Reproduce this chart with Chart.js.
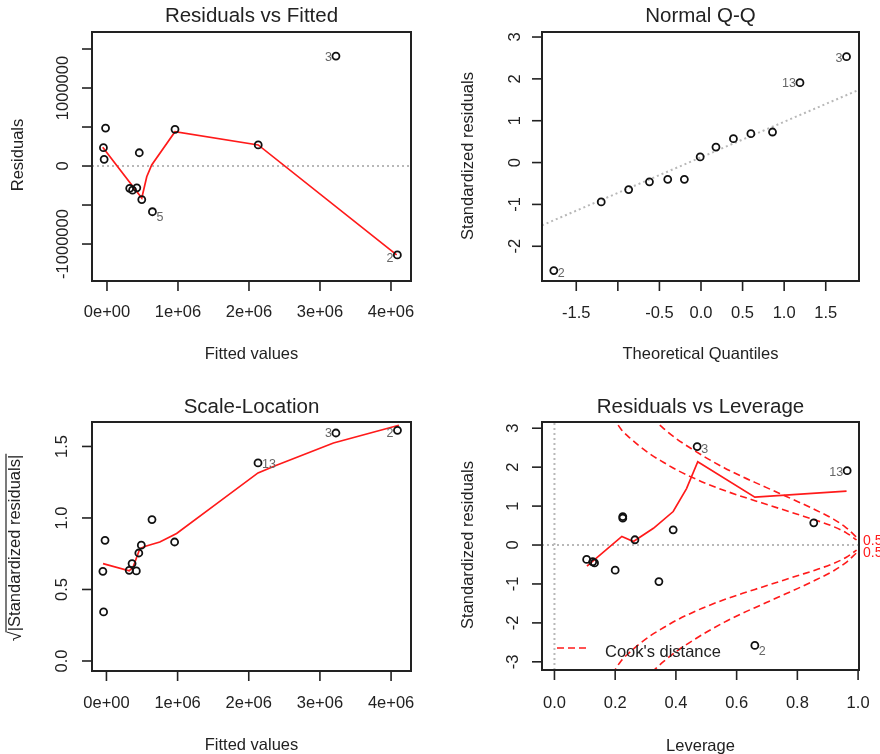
<!DOCTYPE html>
<html lang="en">
<head>
<meta charset="UTF-8">
<title>lm diagnostic plots</title>
<script src="https://cdn.jsdelivr.net/npm/chart.js@4.4.1/dist/chart.umd.min.js"></script>
<style>
  body { margin: 0; background: #fff; }
  #wrap { position: relative; width: 880px; height: 754px; overflow: hidden; }
  canvas { position: absolute; }
</style>
</head>
<body>
<div id="wrap">
  <canvas id="p1" width="440" height="380" style="left:0;top:0"></canvas>
  <canvas id="p2" width="440" height="380" style="left:440px;top:0"></canvas>
  <canvas id="p3" width="440" height="374" style="left:0;top:380px"></canvas>
  <canvas id="p4" width="440" height="374" style="left:440px;top:380px"></canvas>
</div>
<script>
// ---- data ----
// Residuals vs Fitted
const fitted    = [-20000, -50000, -40000, 455000, 320000, 360000, 420000, 490000, 640000, 958000, 2130000, 3225000, 4090000];
const residuals = [487000, 235000, 86000, 170000, -286000, -310000, -280000, -430000, -586000, 470000, 270000, 1410000, -1140000];
const rfSmoothX = [-60000, 490000, 560000, 630000, 958000, 2130000, 4080000];
const rfSmoothY = [240000, -410000, -137000, 13000, 440000, 270000, -1140000];

// Normal Q-Q
const theoQuant   = [-1.77, -1.20, -0.87, -0.62, -0.40, -0.20, -0.01, 0.18, 0.39, 0.60, 0.86, 1.19, 1.75];
const stdResSort  = [-2.58, -0.94, -0.645, -0.46, -0.40, -0.40, 0.135, 0.37, 0.57, 0.69, 0.73, 1.91, 2.53];
const qqLineX = [-1.912, 1.90];
const qqLineY = [-1.50, 1.74];

// Scale-Location (same fitted values)
const sqrtStdRes = [0.844, 0.627, 0.343, 0.755, 0.634, 0.681, 0.630, 0.810, 0.989, 0.832, 1.385, 1.594, 1.613];
const slSmoothX = [-48000, 320000, 375000, 470000, 560000, 750000, 986000, 1550000, 2130000, 2390000, 3190000, 4110000];
const slSmoothY = [0.681, 0.630, 0.657, 0.786, 0.804, 0.832, 0.891, 1.100, 1.315, 1.369, 1.524, 1.648];

// Residuals vs Leverage
const leverage = [0.106, 0.126, 0.132, 0.200, 0.225, 0.225, 0.265, 0.344, 0.391, 0.470, 0.854, 0.964, 0.660];
const stdRes   = [-0.37, -0.43, -0.46, -0.645, 0.73, 0.69, 0.135, -0.94, 0.39, 2.53, 0.57, 1.91, -2.58];
const lvSmoothX = [0.107, 0.222, 0.260, 0.326, 0.391, 0.435, 0.472, 0.660, 0.962];
const lvSmoothY = [-0.54, 0.22, 0.09, 0.43, 0.86, 1.45, 2.14, 1.23, 1.385];
const cookX     = [0.19, 0.22, 0.25, 0.28, 0.32, 0.36, 0.40, 0.45, 0.50, 0.56, 0.62, 0.68, 0.74, 0.80, 0.86, 0.92, 0.96, 0.995];
const cookHalfY = [3.32, 2.97, 2.74, 2.54, 2.31, 2.12, 1.94, 1.75, 1.58, 1.40, 1.24, 1.09, 0.94, 0.79, 0.64, 0.47, 0.32, 0.13];
const cookOneX  = [0.32, 0.36, 0.40, 0.45, 0.50, 0.56, 0.62, 0.68, 0.74, 0.80, 0.86, 0.92, 0.96, 0.995];
const cookOneY  = [3.27, 2.99, 2.74, 2.48, 2.24, 1.98, 1.75, 1.54, 1.33, 1.12, 0.90, 0.66, 0.45, 0.20];
const cookLevelLabels = ['0.5', '0.5'];

// ticks
const fitTicks  = [0, 1000000, 2000000, 3000000, 4000000];
const fitLabels = ['0e+00', '1e+06', '2e+06', '3e+06', '4e+06'];
const resTicks  = [-1000000, -500000, 0, 500000, 1000000, 1500000];
const resLabels = ['-1000000', '', '0', '', '1000000', ''];
const qqXTicks  = [-1.5, -1.0, -0.5, 0, 0.5, 1.0, 1.5];
const qqXLabels = ['-1.5', '', '-0.5', '0.0', '0.5', '1.0', '1.5'];
const qqYTicks  = [-2, -1, 0, 1, 2, 3];
const qqYLabels = ['-2', '-1', '0', '1', '2', '3'];
const slYTicks  = [0, 0.5, 1.0, 1.5];
const slYLabels = ['0.0', '0.5', '1.0', '1.5'];
const lvXTicks  = [0, 0.2, 0.4, 0.6, 0.8, 1.0];
const lvXLabels = ['0.0', '0.2', '0.4', '0.6', '0.8', '1.0'];
const lvYTicks  = [-3, -2, -1, 0, 1, 2, 3];
const lvYLabels = ['-3', '-2', '-1', '0', '1', '2', '3'];

const FONT = '"Liberation Sans", Arial, sans-serif';
const pts = (xs, ys) => xs.map((x, i) => ({ x: x, y: ys[i] }));

// draws the R-style box, axes, titles and point ids
const rFrame = {
  id: 'rFrame',
  afterDraw(chart, args, o) {
    const ctx = chart.ctx, a = chart.chartArea;
    const sx = chart.scales.x, sy = chart.scales.y;
    ctx.save();
    ctx.strokeStyle = '#222';
    ctx.fillStyle = '#222';
    ctx.lineWidth = 2;
    ctx.strokeRect(a.left, a.top, a.right - a.left, a.bottom - a.top);

    ctx.lineWidth = 1.6;
    ctx.font = '16.5px ' + FONT;
    ctx.textAlign = 'center';
    ctx.textBaseline = 'middle';
    o.xTicks.forEach((v, i) => {
      const px = sx.getPixelForValue(v);
      ctx.beginPath(); ctx.moveTo(px, a.bottom); ctx.lineTo(px, a.bottom + 10); ctx.stroke();
      if (o.xLabels[i]) ctx.fillText(o.xLabels[i], px, o.xLabelY);
    });
    o.yTicks.forEach((v, i) => {
      const py = sy.getPixelForValue(v);
      ctx.beginPath(); ctx.moveTo(a.left - 10, py); ctx.lineTo(a.left, py); ctx.stroke();
      if (o.yLabels[i]) {
        ctx.save(); ctx.translate(o.yLabelX, py); ctx.rotate(-Math.PI / 2);
        ctx.fillText(o.yLabels[i], 0, 0); ctx.restore();
      }
    });

    // axis titles
    ctx.fillText(o.xTitle, (a.left + a.right) / 2, o.xTitleY);
    ctx.save(); ctx.translate(o.yTitleX, o.yTitleY); ctx.rotate(-Math.PI / 2);
    if (o.sqrtTitle) {
      const txt = '|' + o.yTitle + '|';
      const w = ctx.measureText(txt).width;
      ctx.fillText(txt, 6, 0);
      ctx.font = '18px ' + FONT;
      ctx.fillText('\u221A', 6 - w / 2 - 5, 1);
      ctx.lineWidth = 1.2;
      ctx.beginPath(); ctx.moveTo(6 - w / 2 - 1, -9); ctx.lineTo(6 + w / 2 + 1, -9); ctx.stroke();
    } else {
      ctx.fillText(o.yTitle, 0, 0);
    }
    ctx.restore();

    // main caption
    ctx.font = '20.5px ' + FONT;
    ctx.fillText(o.title, (a.left + a.right) / 2, o.titleY);

    // point ids
    const meta = chart.getDatasetMeta(0);
    ctx.font = '12.5px ' + FONT;
    ctx.fillStyle = '#666';
    (o.ids || []).forEach(l => {
      const p = meta.data[l.i];
      ctx.textAlign = l.side === 'left' ? 'right' : 'left';
      ctx.fillText(l.text, p.x + (l.side === 'left' ? -4 : 4), p.y + l.dy);
    });

    if (o.extra) o.extra(chart, ctx);
    ctx.restore();
  }
};

function pointSet(data) {
  return {
    data: data, showLine: false, pointStyle: 'circle', pointRadius: 3.5,
    pointBorderColor: '#111', pointBackgroundColor: 'rgba(0,0,0,0)', pointBorderWidth: 1.8
  };
}
function lineSet(data, color, dash, width, mono) {
  return {
    data: data, showLine: true, pointRadius: 0, borderColor: color,
    borderWidth: width, borderDash: dash, fill: false,
    cubicInterpolationMode: mono ? 'monotone' : 'default', tension: 0
  };
}

function makePanel(id, box, range, datasets, frame) {
  const cv = document.getElementById(id);
  return new Chart(cv, {
    type: 'scatter',
    data: { datasets: datasets },
    options: {
      responsive: false,
      animation: false,
      layout: { padding: { left: box[0], top: box[1], right: cv.width - box[2], bottom: cv.height - box[3] } },
      scales: {
        x: { type: 'linear', display: false, min: range[0], max: range[1] },
        y: { type: 'linear', display: false, min: range[2], max: range[3] }
      },
      plugins: { legend: { display: false }, tooltip: { enabled: false }, rFrame: frame }
    },
    plugins: [rFrame]
  });
}

const GREY = '#b8b8b8', RED = '#ff1a1a';

// Residuals vs Fitted
makePanel('p1', [92, 32, 411, 281], [-211000, 4282000, -1474000, 1718000], [
  pointSet(pts(fitted, residuals)),
  lineSet(pts(rfSmoothX, rfSmoothY), RED, [], 1.7),
  lineSet(pts([-211000, 4282000], [0, 0]), GREY, [2, 3], 2)
], {
  title: 'Residuals vs Fitted', titleY: 16,
  xTicks: fitTicks, xLabels: fitLabels, xLabelY: 312, xTitle: 'Fitted values', xTitleY: 354,
  yTicks: resTicks, yLabels: resLabels, yLabelX: 63, yTitle: 'Residuals', yTitleX: 18, yTitleY: 155,
  ids: [{ i: 11, text: '3', side: 'left', dy: 2 }, { i: 12, text: '2', side: 'left', dy: 4 }, { i: 8, text: '5', side: 'right', dy: 6 }]
});

// Normal Q-Q
makePanel('p2', [102, 32, 419, 281], [-1.912, 1.90, -2.83, 3.12], [
  pointSet(pts(theoQuant, stdResSort)),
  lineSet(pts(qqLineX, qqLineY), GREY, [2, 3], 2)
], {
  title: 'Normal Q-Q', titleY: 16,
  xTicks: qqXTicks, xLabels: qqXLabels, xLabelY: 313, xTitle: 'Theoretical Quantiles', xTitleY: 354,
  yTicks: qqYTicks, yLabels: qqYLabels, yLabelX: 75, yTitle: 'Standardized residuals', yTitleX: 28, yTitleY: 156,
  ids: [{ i: 0, text: '2', side: 'right', dy: 3 }, { i: 11, text: '13', side: 'left', dy: 1 }, { i: 12, text: '3', side: 'left', dy: 2 }]
});

// Scale-Location
makePanel('p3', [92, 42, 411, 291], [-203000, 4280000, -0.07, 1.671], [
  pointSet(pts(fitted, sqrtStdRes)),
  lineSet(pts(slSmoothX, slSmoothY), RED, [], 1.7)
], {
  title: 'Scale-Location', titleY: 27,
  xTicks: fitTicks, xLabels: fitLabels, xLabelY: 323, xTitle: 'Fitted values', xTitleY: 365,
  yTicks: slYTicks, yLabels: slYLabels, yLabelX: 62, yTitle: 'Standardized residuals', yTitleX: 15, yTitleY: 169,
  sqrtTitle: true,
  ids: [{ i: 10, text: '13', side: 'right', dy: 2 }, { i: 11, text: '3', side: 'left', dy: 1 }, { i: 12, text: '2', side: 'left', dy: 3 }]
});

// Residuals vs Leverage
makePanel('p4', [102, 42, 419, 290], [-0.041, 1.003, -3.21, 3.16], [
  pointSet(pts(leverage, stdRes)),
  lineSet(pts(lvSmoothX, lvSmoothY), RED, [], 1.7),
  lineSet(pts(cookX, cookHalfY), RED, [7, 4], 1.6, true),
  lineSet(pts(cookOneX, cookOneY), RED, [7, 4], 1.6, true),
  lineSet(pts(cookX, cookHalfY.map(v => -v)), RED, [7, 4], 1.6, true),
  lineSet(pts(cookOneX, cookOneY.map(v => -v)), RED, [7, 4], 1.6, true),
  lineSet(pts([-0.041, 1.003], [0, 0]), GREY, [2, 3], 2),
  lineSet(pts([0, 0], [-3.21, 3.16]), GREY, [2, 3], 2)
], {
  title: 'Residuals vs Leverage', titleY: 27,
  xTicks: lvXTicks, xLabels: lvXLabels, xLabelY: 323, xTitle: 'Leverage', xTitleY: 366,
  yTicks: lvYTicks, yLabels: lvYLabels, yLabelX: 73, yTitle: 'Standardized residuals', yTitleX: 28, yTitleY: 165,
  ids: [{ i: 9, text: '3', side: 'right', dy: 3 }, { i: 11, text: '13', side: 'left', dy: 2 }, { i: 12, text: '2', side: 'right', dy: 6 }],
  extra(chart, ctx) {
    const a = chart.chartArea, sy = chart.scales.y;
    // legend
    ctx.strokeStyle = RED; ctx.lineWidth = 1.6; ctx.setLineDash([7, 4]);
    ctx.beginPath(); ctx.moveTo(117, 268); ctx.lineTo(147, 268); ctx.stroke();
    ctx.setLineDash([]);
    ctx.fillStyle = '#222'; ctx.font = '16.5px ' + FONT; ctx.textAlign = 'left';
    ctx.fillText("Cook's distance", 165, 272);
    // contour level labels at the right margin (cut by the page edge)
    ctx.fillStyle = RED; ctx.font = '14px ' + FONT; ctx.textAlign = 'left';
    ctx.fillText(cookLevelLabels[0], a.right + 4, sy.getPixelForValue(0.09));
    ctx.fillText(cookLevelLabels[1], a.right + 4, sy.getPixelForValue(-0.22));
  }
});
</script>
</body>
</html>
